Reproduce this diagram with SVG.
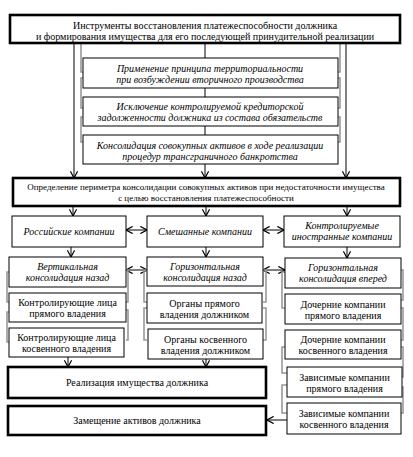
<svg xmlns="http://www.w3.org/2000/svg" width="413" height="457" viewBox="0 0 413 457">
<defs>
<marker id="ah" markerUnits="userSpaceOnUse" markerWidth="8" markerHeight="8" refX="5" refY="3" orient="auto-start-reverse" viewBox="0 0 6 6">
<path d="M0,0.3 L5,3 L0,5.7" fill="none" stroke="#000" stroke-width="0.9"/>
</marker>
</defs>
<style>
text{font-family:"Liberation Serif","Times New Roman",serif;font-size:10px;fill:#000;text-anchor:middle}
.it{font-style:italic}
.sm{font-size:9px}
.box{fill:#fff;stroke:#000;stroke-width:1}
.thick{fill:#fff;stroke:#000;stroke-width:2.6}
.ln{fill:none;stroke:#000;stroke-width:1}
.arr{fill:none;stroke:#000;stroke-width:1;marker-end:url(#ah)}
.dbl{fill:none;stroke:#000;stroke-width:1;marker-end:url(#ah);marker-start:url(#ah)}
.br{fill:none;stroke:#999;stroke-width:1.6}
</style>
<rect width="413" height="457" fill="#fff"/>
<g id="connectors">
<path class="arr" d="M74,43 V178"/>
<path class="arr" d="M346,43 V178"/>
<path class="arr" d="M205,43 V178"/>
<path class="br" d="M81,43 V72 H83 M83,78 H81 V108 H83 M83,117 H81 V142 H83"/>
<path class="br" d="M340,43 V72 H338 M338,78 H340 V108 H338 M338,117 H340 V142 H338"/>
<path class="arr" d="M73,206 V216"/>
<path class="arr" d="M206,206 V216"/>
<path class="arr" d="M347,206 V216"/>
<path class="dbl" d="M126,230 H147"/>
<path class="dbl" d="M263,230 H284"/>
<path class="arr" d="M71,247 V257"/>
<path class="arr" d="M206,247 V257"/>
<path class="arr" d="M347,247 V258"/>
<path class="dbl" d="M126,270 H147"/>
<path class="dbl" d="M263,270 H285"/>
<path class="br" d="M9,272 H7 V302 H9 M9,312 H7 V342 H9"/>
<path class="br" d="M126,270 H128 V302 H126 M126,310 H128 V340 H126"/>
<path class="br" d="M147,270 H144 V302 H147 M147,308 H144 V340 H147"/>
<path class="br" d="M263,270 H266 V302 H263 M263,308 H266 V340 H263"/>
<path class="br" d="M285,272 H282 V308 H285 M285,347 H282 V373 H287 M287,385 H282 V413 H287"/>
<path class="br" d="M401,270 H403 V300 H401 M401,308 H403 V340 H401 M401,347 H403 V377 H402 M402,387 H403 V413 H401"/>
<path class="arr" d="M68,357 V367"/>
<path class="arr" d="M206,359 V367"/>
<path class="arr" d="M287,420 H267"/>
</g>
<g id="n-top">
<rect class="thick" x="10" y="15" width="390" height="28"/>
<text x="205" y="28.5">Инструменты восстановления платежеспособности должника</text>
<text x="205" y="39.5">и формирования имущества для его последующей принудительной реализации</text>
</g>
<g id="n-terr">
<rect class="box" x="83" y="58" width="255" height="30"/>
<text class="it" x="210" y="71.5">Применение принципа территориальности</text>
<text class="it" x="210" y="82.5">при возбуждении вторичного производства</text>
</g>
<g id="n-excl">
<rect class="box" x="83" y="97" width="255" height="29"/>
<text class="it" x="210" y="110">Исключение контролируемой кредиторской</text>
<text class="it" x="210" y="121">задолженности должника из состава обязательств</text>
</g>
<g id="n-cons">
<rect class="box" x="83" y="135" width="255" height="29"/>
<text class="it" x="210" y="148.5">Консолидация совокупных активов в ходе реализации</text>
<text class="it" x="210" y="159.5">процедур трансграничного банкротства</text>
</g>
<g id="n-perim">
<rect class="thick" x="13" y="178" width="387" height="28"/>
<text class="sm" x="206" y="190">Определение периметра консолидации совокупных активов при недостаточности имущества</text>
<text class="sm" x="206" y="201">с целью восстановления платежеспособности</text>
</g>
<g id="n-ru">
<rect class="box" x="12" y="216" width="114" height="31"/>
<text class="it" x="69" y="234.5">Российские компании</text>
</g>
<g id="n-mix">
<rect class="box" x="147" y="216" width="116" height="31"/>
<text class="it" x="205" y="234.5">Смешанные компании</text>
</g>
<g id="n-foreign">
<rect class="box" x="284" y="216" width="116" height="31"/>
<text class="it" x="342" y="229">Контролируемые</text>
<text class="it" x="342" y="240">иностранные компании</text>
</g>
<g id="n-vert">
<rect class="box" x="9" y="257" width="117" height="30"/>
<text class="it" x="67.5" y="270">Вертикальная</text>
<text class="it" x="67.5" y="281">консолидация назад</text>
</g>
<g id="n-horback">
<rect class="box" x="147" y="257" width="116" height="29"/>
<text class="it" x="205" y="270">Горизонтальная</text>
<text class="it" x="205" y="281">консолидация назад</text>
</g>
<g id="n-horfwd">
<rect class="box" x="285" y="258" width="116" height="30"/>
<text class="it" x="343" y="271">Горизонтальная</text>
<text class="it" x="343" y="282">консолидация вперед</text>
</g>
<g id="n-ctrl-direct">
<rect class="box" x="9" y="293" width="117" height="29"/>
<text x="67.5" y="306">Контролирующие лица</text>
<text x="67.5" y="317">прямого владения</text>
</g>
<g id="n-ctrl-indirect">
<rect class="box" x="9" y="328" width="115" height="29"/>
<text x="66.5" y="341">Контролирующие лица</text>
<text x="66.5" y="352">косвенного владения</text>
</g>
<g id="n-org-direct">
<rect class="box" x="147" y="293" width="115" height="30"/>
<text x="204.5" y="306.5">Органы прямого</text>
<text x="204.5" y="317.5">владения должником</text>
</g>
<g id="n-org-indirect">
<rect class="box" x="148" y="329" width="115" height="30"/>
<text x="205.5" y="342.5">Органы косвенного</text>
<text x="205.5" y="353.5">владения должником</text>
</g>
<g id="n-sub-direct">
<rect class="box" x="285" y="294" width="116" height="30"/>
<text x="343" y="307.5">Дочерние компании</text>
<text x="343" y="318.5">прямого владения</text>
</g>
<g id="n-sub-indirect">
<rect class="box" x="285" y="330" width="116" height="29"/>
<text x="343" y="343">Дочерние компании</text>
<text x="343" y="354">косвенного владения</text>
</g>
<g id="n-dep-direct">
<rect class="box" x="287" y="367" width="115" height="30"/>
<text x="344.5" y="380.5">Зависимые компании</text>
<text x="344.5" y="391.5">прямого владения</text>
</g>
<g id="n-dep-indirect">
<rect class="box" x="287" y="403" width="114" height="31"/>
<text x="344" y="417">Зависимые компании</text>
<text x="344" y="428">косвенного владения</text>
</g>
<g id="n-realize">
<rect class="thick" x="8" y="367" width="258" height="31"/>
<text x="137" y="386">Реализация имущества должника</text>
</g>
<g id="n-replace">
<rect class="thick" x="8" y="406" width="258" height="29"/>
<text x="137" y="423.5">Замещение активов должника</text>
</g>
</svg>
